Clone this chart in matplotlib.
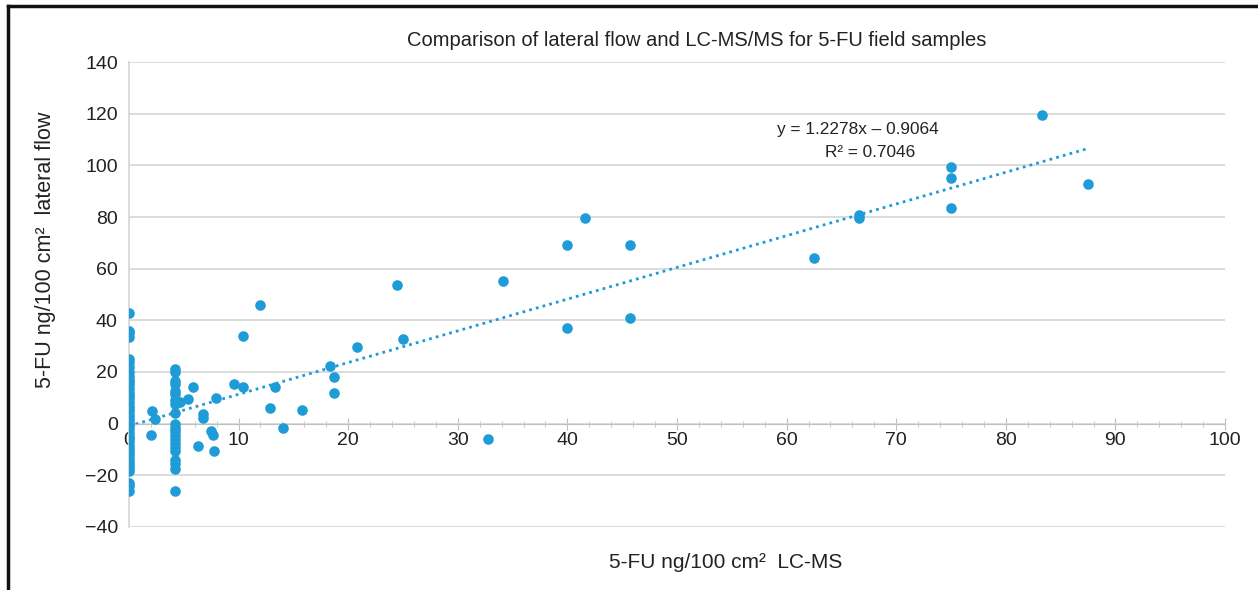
import numpy as np
import matplotlib.pyplot as plt
from matplotlib.lines import Line2D
from matplotlib.ticker import MultipleLocator

plt.rcParams['font.family'] = ['Liberation Sans', 'DejaVu Sans']

# LC-MS values (x) and lateral flow values (y)
col0_y = [43, 36, 35, 33.5, 25, 24, 22, 20, 18.5, 17, 16, 15, 13.5, 12, 11, 10,
          8.5, 7, 6, 5, 3.5, 2, 1, 0, -1, -2, -3.5, -5, -6, -7, -8.5, -10, -11,
          -12, -13.5, -15, -16, -17, -18.5, -23, -24, -26]
col4_y = [21, 20, 16.5, 15.5, 12.5, 11.5, 9, 7.5, 4, 0, -1.5, -3, -4.5, -6,
          -7.5, -9, -10.5, -14, -15.5, -17.5, -26]
other_x = [83.3, 87.5, 75, 75, 75, 66.6, 66.6, 62.5, 41.6, 40, 40, 45.7, 45.7,
           34.1, 32.8, 24.5, 25, 20.8, 18.3, 18.7, 18.7, 15.8, 14.1, 13.3, 12.9,
           12.0, 10.4, 10.4, 9.6, 7.9, 7.7, 7.8, 7.5, 6.75, 6.75, 6.3, 5.8, 5.4,
           4.7, 2.1, 2.4, 2.0]
other_y = [119.4, 92.6, 99.2, 95, 83.3, 80.6, 79.5, 64.3, 79.5, 69, 37.2, 69,
           41, 55.4, -5.8, 53.5, 32.6, 29.8, 22.5, 18.2, 12, 5.4, -1.6, 14, 6.2,
           46.1, 34.1, 14, 15.5, 10.1, -4.3, -10.5, -2.7, 3.9, 2.3, -8.5, 14.3,
           9.7, 8.5, 5, 1.9, -4.3]

x = np.array([0] * len(col0_y) + [4.17] * len(col4_y) + other_x)
y = np.array(col0_y + col4_y + other_y)

slope, intercept = 1.2278, -0.9064
trend_x = np.array([0, 87.5])

blue = '#1f9bd7'
grey = '#d9d9d9'
txt = '#222222'

fig = plt.figure(figsize=(12.58, 5.9), dpi=100)
ax = fig.add_axes([0.1025, 0.1068, 0.8713, 0.7881])

ax.scatter(x, y, s=58, color=blue, zorder=3, linewidths=0)
ax.plot(trend_x, slope * trend_x + intercept, color=blue, lw=2,
        linestyle=(0, (1, 1.5)), zorder=2)

ax.set_xlim(0, 100)
ax.set_ylim(-40, 140)
ax.xaxis.set_major_locator(MultipleLocator(10))
ax.xaxis.set_minor_locator(MultipleLocator(2))
ax.yaxis.set_major_locator(MultipleLocator(20))
ax.grid(axis='y', color=grey, lw=1.3, zorder=0)
ax.set_axisbelow(True)

for s in ['top', 'right']:
    ax.spines[s].set_visible(False)
ax.spines['bottom'].set_position(('data', 0))
ax.spines['bottom'].set_color('#bfbfbf')
ax.spines['left'].set_color(grey)
ax.spines['left'].set_linewidth(1.3)

ax.tick_params(axis='x', which='major', direction='inout', length=8,
               color='#bfbfbf', labelsize=14, pad=2)
ax.tick_params(axis='x', which='minor', direction='inout', length=5,
               color='#bfbfbf')
ax.tick_params(axis='y', length=0, labelsize=14, pad=8)
for lbl in ax.get_xticklabels() + ax.get_yticklabels():
    lbl.set_color(txt)

fig.text(0.554, 0.932, 'Comparison of lateral flow and LC-MS/MS for 5-FU field samples',
         fontsize=14.5, color=txt, ha='center', va='center')
fig.text(0.036, 0.576, '5-FU ng/100 cm\u00b2  lateral flow', fontsize=15.5,
         color=txt, ha='center', va='center', rotation=90)
fig.text(0.577, 0.047, '5-FU ng/100 cm\u00b2  LC-MS', fontsize=15,
         color=txt, ha='center', va='center')

fig.text(0.682, 0.781, 'y = 1.2278x \u2013 0.9064', fontsize=12.4,
         color=txt, ha='center', va='center')
fig.text(0.692, 0.741, 'R\u00b2 = 0.7046', fontsize=12.4,
         color=txt, ha='center', va='center')

# black frame on left and top edges
fig.add_artist(Line2D([0.0065, 0.0065], [0, 0.99], transform=fig.transFigure,
                      color='#111111', lw=2.5))
fig.add_artist(Line2D([0.0065, 1], [0.99, 0.99], transform=fig.transFigure,
                      color='#111111', lw=2.5))

fig.savefig('out.png', dpi=100)
